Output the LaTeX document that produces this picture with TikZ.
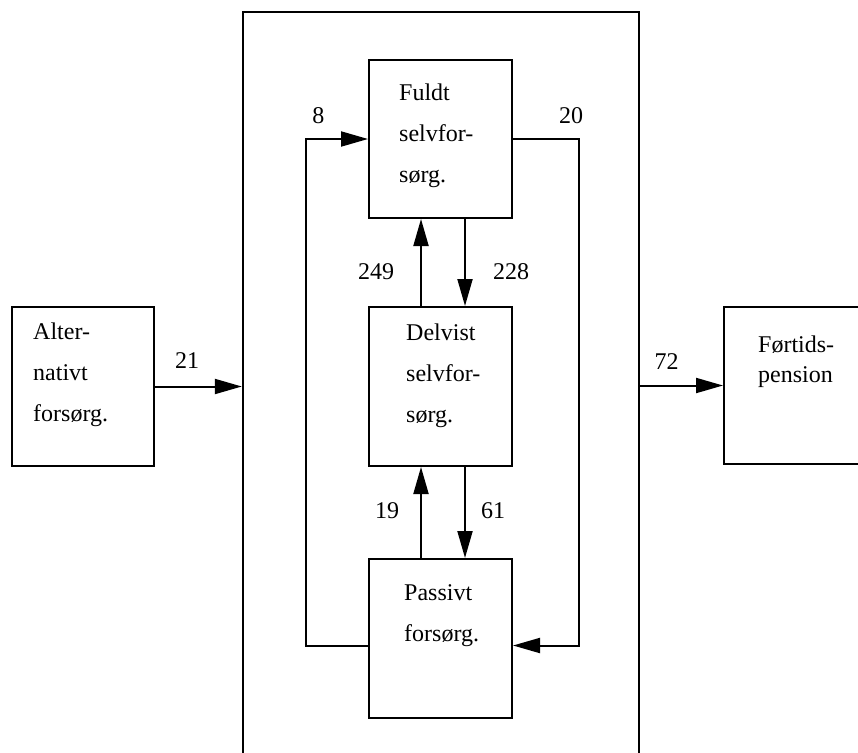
\documentclass[tikz,border=0pt]{standalone}
\usepackage{fontspec}
\setmainfont{Liberation Serif}
\usetikzlibrary{positioning,arrows.meta}
\tikzset{
  stage/.style = {draw, line width=2pt, minimum width=143pt, minimum height=158pt, inner sep=0pt},
  stagetext/.style = {anchor=base west, align=left, inner sep=0pt, font=\fontsize{24}{41}\selectfont},
  flow/.style = {line width=2pt, -{Triangle[length=27pt,width=15pt]}},
  num/.style = {inner sep=0pt, font=\fontsize{24}{29}\selectfont}
}

\begin{document}
\begin{tikzpicture}[x=1pt,y=-1pt]
  \useasboundingbox (0,0) rectangle (858,752);
  \clip (0,0) rectangle (858,752);
  % boxes
  \node[stage, minimum width=142pt, minimum height=159pt] (alt) at (83,386.5) {};
  \node[stage, minimum width=396pt, minimum height=780pt, line width=2.4pt] (outer) at (441,402) {};
  \node[stage] (fuldt) at (440.5,139) {};
  \node[stage, minimum height=159pt] (delvist) at (440.5,386.5) {};
  \node[stage, minimum height=159pt] (passivt) at (440.5,638.5) {};
  \node[stage, minimum width=176pt, minimum height=157pt] (fortid) at (812,385.5) {};
  % texts (anchored at the baseline of the last line)
  \node[stagetext] (alttext) at (33,421) {Alter-\\nativt\\forsørg.};
  \node[stagetext] (fuldttext) at (399,182) {Fuldt\\selvfor-\\sørg.};
  \node[stagetext] (delvisttext) at (406,422) {Delvist\\selvfor-\\sørg.};
  \node[stagetext] (passivttext) at (404,641) {Passivt\\forsørg.};
  \node[stagetext, font=\fontsize{24}{30}\selectfont] (fortidtext) at (758,382) {Førtids-\\pension};
  % flows
  \draw[flow] (alt.east) -- (alt.east -| outer.west) node[num, pos=.37, above=17pt]{21};
  \draw[flow] (outer.east |- fortid.west) -- (fortid.west) node[num, pos=.32, above=15pt]{72};
  \draw[flow] ([xshift=-19.5pt]delvist.north) -- ([xshift=-19.5pt]fuldt.south) node[num, pos=.4, left=26pt]{249};
  \draw[flow] ([xshift=24.5pt]fuldt.south) -- ([xshift=24.5pt]delvist.north) node[num, pos=.6, right=27pt]{228};
  \draw[flow] ([xshift=-19.5pt]passivt.north) -- ([xshift=-19.5pt]delvist.south) node[num, pos=.52, left=21pt]{19};
  \draw[flow] ([xshift=24.5pt]delvist.south) -- ([xshift=24.5pt]passivt.north) node[num, pos=.48, right=15pt]{61};
  \draw[flow] ([yshift=-7pt]passivt.west) -- ++(-62,0) |- (fuldt.west) node[num, pos=.6, above=14pt]{8};
  \draw[flow] (fuldt.east) -- ++(66,0) node[num, pos=.88, above=14pt]{20} |- ([yshift=-7pt]passivt.east);
\end{tikzpicture}
\end{document}
